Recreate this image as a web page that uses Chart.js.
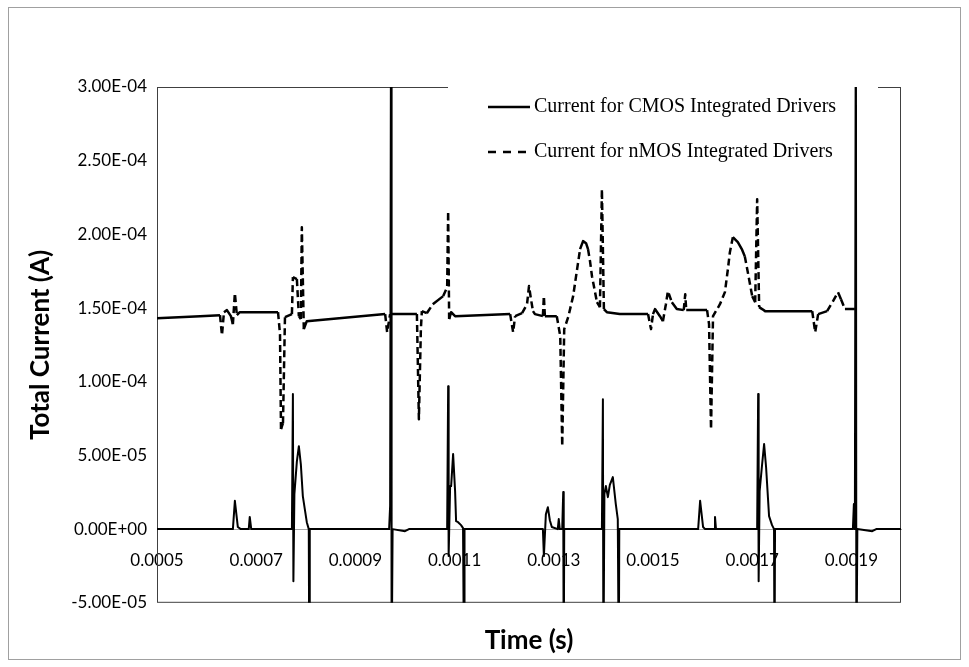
<!DOCTYPE html>
<html>
<head>
<meta charset="utf-8">
<script src="https://cdn.jsdelivr.net/npm/chart.js@4.4.1/dist/chart.umd.min.js"></script>
<style>
  html, body { margin: 0; padding: 0; background: #fff; }
  #wrap { position: relative; width: 969px; height: 667px; }
</style>
</head>
<body>
<div id="wrap"><canvas id="currentChart"></canvas></div>
<script>
// nMOS integrated drivers: time (s) and total current (A)
const nmosTime = [
  0.000500, 0.000587, 0.000627, 0.000631, 0.000635, 0.000641, 0.000649, 0.000653, 0.000657, 0.000661,
  0.000667, 0.000744, 0.000748, 0.000750, 0.000754, 0.000758, 0.000772, 0.000774, 0.000782, 0.000786,
  0.000790, 0.000792, 0.000796, 0.000802, 0.000889, 0.000960, 0.000964, 0.000970, 0.001024, 0.001028,
  0.001032, 0.001034, 0.001044, 0.001056, 0.001077, 0.001085, 0.001087, 0.001089, 0.001093, 0.001101,
  0.001212, 0.001218, 0.001222, 0.001236, 0.001246, 0.001250, 0.001254, 0.001258, 0.001262, 0.001278,
  0.001280, 0.001282, 0.001306, 0.001313, 0.001317, 0.001321, 0.001329, 0.001339, 0.001347, 0.001353,
  0.001359, 0.001365, 0.001369, 0.001373, 0.001377, 0.001387, 0.001393, 0.001397, 0.001401, 0.001407,
  0.001433, 0.001490, 0.001496, 0.001500, 0.001504, 0.001514, 0.001520, 0.001526, 0.001530, 0.001538,
  0.001548, 0.001562, 0.001565, 0.001567, 0.001609, 0.001613, 0.001617, 0.001621, 0.001635, 0.001645,
  0.001651, 0.001655, 0.001661, 0.001671, 0.001679, 0.001685, 0.001690, 0.001700, 0.001706, 0.001710,
  0.001714, 0.001720, 0.001726, 0.001821, 0.001827, 0.001833, 0.001851, 0.001863, 0.001873, 0.001879,
  0.001887, 0.001907
];
const nmosCurrent = [
  1.431e-4, 1.445e-4, 1.452e-4, 1.316e-4, 1.472e-4, 1.486e-4, 1.445e-4, 1.391e-4, 1.601e-4, 1.452e-4,
  1.472e-4, 1.472e-4, 1.323e-4, 6.78e-5, 7.19e-5, 1.438e-4, 1.459e-4, 1.710e-4, 1.696e-4, 1.445e-4,
  1.425e-4, 2.049e-4, 1.357e-4, 1.411e-4, 1.438e-4, 1.459e-4, 1.336e-4, 1.459e-4, 1.459e-4, 7.46e-5,
  1.357e-4, 1.479e-4, 1.465e-4, 1.526e-4, 1.581e-4, 1.642e-4, 2.157e-4, 1.425e-4, 1.472e-4, 1.445e-4,
  1.459e-4, 1.336e-4, 1.445e-4, 1.465e-4, 1.526e-4, 1.649e-4, 1.560e-4, 1.479e-4, 1.459e-4, 1.445e-4,
  1.581e-4, 1.445e-4, 1.445e-4, 1.309e-4, 5.63e-5, 1.357e-4, 1.438e-4, 1.581e-4, 1.764e-4, 1.900e-4,
  1.954e-4, 1.940e-4, 1.900e-4, 1.818e-4, 1.716e-4, 1.540e-4, 1.506e-4, 2.307e-4, 1.493e-4, 1.472e-4,
  1.459e-4, 1.459e-4, 1.357e-4, 1.459e-4, 1.493e-4, 1.445e-4, 1.411e-4, 1.526e-4, 1.615e-4, 1.540e-4,
  1.493e-4, 1.486e-4, 1.594e-4, 1.486e-4, 1.486e-4, 1.391e-4, 6.78e-5, 1.445e-4, 1.526e-4, 1.608e-4,
  1.764e-4, 1.879e-4, 1.981e-4, 1.947e-4, 1.900e-4, 1.852e-4, 1.764e-4, 1.581e-4, 1.540e-4, 2.239e-4,
  1.506e-4, 1.493e-4, 1.479e-4, 1.479e-4, 1.336e-4, 1.459e-4, 1.479e-4, 1.547e-4, 1.608e-4, 1.560e-4,
  1.493e-4, 1.493e-4
];

// CMOS integrated drivers: time (s) and total current (A)
const cmosTime = [
  0.000500, 0.000653, 0.000657, 0.000663, 0.000669, 0.000685, 0.000687, 0.000690, 0.000772, 0.000774,
  0.000775, 0.000777, 0.000782, 0.000786, 0.000790, 0.000794, 0.000798, 0.000802, 0.000806, 0.000807,
  0.000808, 0.000968, 0.000970, 0.000972, 0.000973, 0.000975, 0.001000, 0.001008, 0.001085, 0.001087,
  0.001088, 0.001091, 0.001093, 0.001097, 0.001101, 0.001103, 0.001107, 0.001113, 0.001117, 0.001119,
  0.001120, 0.001278, 0.001280, 0.001284, 0.001288, 0.001292, 0.001296, 0.001308, 0.001310, 0.001312,
  0.001317, 0.001319, 0.001320, 0.001321, 0.001397, 0.001399, 0.001400, 0.001402, 0.001405, 0.001409,
  0.001413, 0.001419, 0.001425, 0.001429, 0.001431, 0.001432, 0.001591, 0.001595, 0.001601, 0.001605,
  0.001623, 0.001625, 0.001627, 0.001710, 0.001712, 0.001713, 0.001715, 0.001720, 0.001724, 0.001728,
  0.001734, 0.001740, 0.001744, 0.001745, 0.001746, 0.001903, 0.001905, 0.001907, 0.001909, 0.001910,
  0.001912, 0.001942, 0.001950, 0.002000
];
const cmosCurrent = [
  0, 0, 1.92e-5, 1.4e-6, 0, 0, 8.3e-6, 0, 0, 9.16e-5,
  -3.53e-5, 2.37e-5, 4.6e-5, 5.63e-5, 4.4e-5, 2.24e-5, 1.36e-5, 4.7e-6, 0, -1.0e-4,
  0, 0, 1.56e-5, 4.0e-4, -1.0e-4, 0, -1.4e-6, 0, 0, 9.70e-5,
  -1.83e-5, 2.92e-5, 2.92e-5, 5.09e-5, 2.58e-5, 5.4e-6, 4.7e-6, 2.7e-6, 7e-7, -1.0e-4,
  0, 0, -1.83e-5, 1.0e-5, 1.49e-5, 6.0e-6, 1.4e-6, 0, 6.8e-6, 0,
  0, 2.51e-5, -1.0e-4, 0, 0, 8.82e-5, -1.0e-4, 2.37e-5, 2.92e-5, 2.17e-5,
  3.0e-5, 3.53e-5, 1.7e-5, 6.8e-6, -1.0e-4, 0, 0, 1.92e-5, 1.4e-6, 0,
  0, 8.3e-6, 0, 0, 9.16e-5, -3.53e-5, 2.58e-5, 4.4e-5, 5.77e-5, 4.2e-5,
  8.8e-6, 2.7e-6, 0, -1.0e-4, 0, 0, 1.7e-5, 0, 4.0e-4, -1.0e-4,
  0, -1.4e-6, 0, 0
];

const timeTicks = [0.0005, 0.0007, 0.0009, 0.0011, 0.0013, 0.0015, 0.0017, 0.0019];
const currentTicks = [-5e-5, 0, 5e-5, 1e-4, 1.5e-4, 2e-4, 2.5e-4, 3e-4];

const toPoints = (xs, ys) => xs.map((x, i) => ({ x, y: ys[i] }));

// 3.00E-04 style labels
const sci = v => {
  const [m, e] = Number(v).toExponential(2).split('e');
  const n = parseInt(e, 10);
  return m + 'E' + (n < 0 ? '-' : '+') + String(Math.abs(n)).padStart(2, '0');
};

// dashed only where the trace is steep, solid along the flat stretches
const steepDash = ctx => {
  const dx = Math.abs(ctx.p1.x - ctx.p0.x);
  const dy = Math.abs(ctx.p1.y - ctx.p0.y);
  return dy > 8 && dy > dx * 1.5 ? [7, 4] : [];
};

const tickFont = { family: 'Lato', size: 17 };
const titleFont = { family: 'Lato', size: 26, weight: 'bold' };

const frameAndLegend = {
  id: 'frameAndLegend',
  beforeDraw(chart) {
    const { ctx } = chart;
    ctx.save();
    ctx.strokeStyle = '#a0a0a0';
    ctx.lineWidth = 1;
    ctx.strokeRect(8.5, 7.5, 952, 652);
    ctx.restore();
  },
  beforeDatasetsDraw(chart) {
    const { ctx, chartArea: a } = chart;
    ctx.save();
    ctx.strokeStyle = '#404040';
    ctx.lineWidth = 1;
    ctx.strokeRect(a.left + 0.5, a.top + 0.5, a.width - 1, a.height - 1);
    ctx.fillStyle = '#fff';
    ctx.fillRect(448, a.top - 2, 430, 84);
    ctx.restore();
  },
  afterDatasetsDraw(chart) {
    const { ctx } = chart;
    ctx.save();
    ctx.font = '20px "Liberation Serif"';
    ctx.textBaseline = 'middle';
    ctx.fillStyle = '#000';
    chart.data.datasets.forEach((ds, i) => {
      const y = 107 + i * 45;
      ctx.strokeStyle = '#000';
      ctx.lineWidth = 2.5;
      ctx.setLineDash(ds.legendDash);
      ctx.beginPath();
      ctx.moveTo(488, y);
      ctx.lineTo(530, y);
      ctx.stroke();
      ctx.setLineDash([]);
      ctx.fillText(ds.label, 534, y);
    });
    ctx.restore();
  }
};

new Chart(document.getElementById('currentChart'), {
  type: 'line',
  data: {
    datasets: [
      {
        label: 'Current for CMOS Integrated Drivers',
        data: toPoints(cmosTime, cmosCurrent),
        borderColor: '#000',
        borderWidth: 2,
        borderJoinStyle: 'round',
        pointRadius: 0,
        tension: 0,
        legendDash: []
      },
      {
        label: 'Current for nMOS Integrated Drivers',
        data: toPoints(nmosTime, nmosCurrent),
        borderColor: '#000',
        borderWidth: 2.5,
        borderJoinStyle: 'round',
        pointRadius: 0,
        tension: 0,
        segment: { borderDash: steepDash },
        legendDash: [8, 7]
      }
    ]
  },
  options: {
    responsive: true,
    maintainAspectRatio: false,
    animation: false,
    layout: { padding: { top: 87, right: 68, bottom: 0, left: 0 } },
    scales: {
      x: {
        type: 'linear',
        position: { y: 0 },
        min: 0.0005,
        max: 0.002,
        afterBuildTicks: s => { s.ticks = timeTicks.map(v => ({ value: v })); },
        grid: { display: false, drawTicks: false },
        border: { display: true, color: '#a6a6a6', width: 1 },
        ticks: {
          padding: 21,
          color: '#000',
          font: tickFont,
          maxRotation: 0,
          autoSkip: false,
          callback: v => Number(v).toFixed(4)
        }
      },
      y: {
        type: 'linear',
        min: -5e-5,
        max: 3e-4,
        afterBuildTicks: s => { s.ticks = currentTicks.map(v => ({ value: v })); },
        afterFit: s => { s.width = 157; },
        grid: { display: false, drawTicks: false },
        border: { display: false },
        ticks: { padding: 10, color: '#000', font: tickFont, callback: sci },
        title: {
          display: true,
          text: 'Total Current (A)',
          color: '#000',
          font: titleFont,
          padding: { top: 25, bottom: 0 }
        }
      }
    },
    plugins: {
      legend: { display: false },
      tooltip: { enabled: false },
      title: {
        display: true,
        position: 'bottom',
        fullSize: false,
        text: 'Time (s)',
        color: '#000',
        font: titleFont,
        padding: { top: 22, bottom: 11 }
      }
    }
  },
  plugins: [frameAndLegend]
});
</script>
</body>
</html>
